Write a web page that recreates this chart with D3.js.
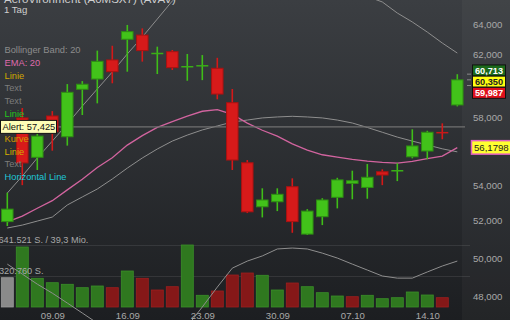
<!DOCTYPE html>
<html><head><meta charset="utf-8">
<script src="https://cdn.jsdelivr.net/npm/d3@7"></script>
<style>html,body{margin:0;padding:0;background:#2b2e32;overflow:hidden}svg{display:block;font-family:"Liberation Sans",Arial,sans-serif}</style>
</head><body><svg id="c" width="510" height="320"></svg>
<script>
// ---------- data ----------
const dates = ["04.09","05.09","06.09","09.09","10.09","11.09","12.09","13.09","16.09","17.09","18.09","19.09","20.09","23.09","24.09","25.09","26.09","27.09","30.09","01.10","02.10","03.10","04.10","07.10","08.10","09.10","10.10","11.10","14.10","15.10","16.10"];
const open  = [51.96,57.97,55.61,58.09,56.83,59.75,60.40,61.63,62.99,63.27,62.02,62.17,61.17,61.23,61.09,58.91,55.29,52.78,53.06,53.91,51.28,52.23,53.31,54.10,53.87,54.77,54.81,55.64,55.98,57.10,58.77];
const high  = [53.57,58.58,57.13,58.39,60.08,60.27,62.24,62.56,63.95,63.72,62.50,62.28,62.02,61.95,61.77,59.77,55.45,53.82,53.82,54.39,52.65,53.26,54.42,54.83,55.22,54.91,55.26,57.28,57.19,57.64,60.71];
const low   = [51.72,54.00,54.87,56.00,56.30,58.15,58.87,60.13,60.87,61.52,60.72,60.98,60.29,60.33,59.12,54.87,52.43,52.19,52.54,51.35,51.23,51.77,52.69,53.20,53.23,54.00,54.23,55.55,55.50,56.68,58.68];
const close = [52.65,55.28,56.87,57.13,59.56,60.07,61.54,60.87,63.50,62.24,62.08,61.13,61.21,61.27,59.45,55.45,52.50,53.16,53.48,51.96,52.54,53.16,54.30,54.25,54.45,54.58,54.84,56.28,57.10,57.05,60.35];
const volume = [303000,620800,297000,251400,234900,199700,217300,199700,372500,297000,175900,210000,641521,121100,165600,331100,351800,328000,175900,248300,210000,148000,113800,106600,121100,85900,96200,155200,124200,96200,0];
const ema20 = [51.94,52.26,52.70,53.12,53.73,54.34,55.02,55.58,56.33,56.90,57.39,57.75,58.08,58.38,58.48,58.19,57.65,57.22,56.87,56.40,56.03,55.76,55.62,55.49,55.39,55.31,55.27,55.37,55.53,55.68,56.1798];
const bbUpper  = [53.55,54.52,55.57,56.57,57.60,58.70,59.77,60.85,62.02,63.14,64.35,65.59,66.5,67.2,67.6,67.9,68.0,67.9,67.8,67.6,67.3,67.0,66.6,66.2,65.9,65.52,64.76,64.15,63.47,62.74,62.08];
const bbMiddle = [51.61,51.77,51.99,52.21,52.88,53.33,53.78,54.35,54.98,55.57,56.10,56.57,56.93,57.24,57.48,57.72,57.84,57.97,58.03,58.07,58.03,57.97,57.84,57.66,57.39,57.10,56.81,56.57,56.34,56.11,55.93];
const bbLower  = [49.68,49.16,48.64,48.18,47.68,47.18,46.68,46.19,45.85,45.61,45.61,45.85,46.53,47.48,48.49,49.47,49.84,50.11,50.48,50.53,50.48,50.26,50.00,49.68,49.37,49.06,48.95,48.95,49.27,49.58,49.84];
const priceTicks = [48,50,52,54,58,62,64];   // 56 and 60 are hidden behind the value tags in the reference
const dateTicks = ["09.09","16.09","23.09","30.09","07.10","14.10"];
const quoteTags = [60.713, 60.350, 59.987];
const alertLevel = 57.425;
const volumeMax = 641521;
const title = "AeroVironment (A0MSX7) (AVAV)";
const period = "1 Tag";
const legendLabels = ["Bollinger Band: 20","EMA: 20","Linie","Text","Text","Linie",null,"Kurve","Linie","Text","Horizontal Line"];
const volumeLabelTop = "641.521 S. / 39,3 Mio.";
const volumeLabelMid = "320.760 S.";

// ---------- drawing ----------
const svg = d3.select("#c");
const W = 510, H = 320;
const de = d3.formatLocale({decimal:",", thousands:".", grouping:[3], currency:["","€"]});
const fmt3 = de.format(".3f"), fmt4 = de.format(".4f");

const x = d3.scalePoint().domain(dates).range([7.3, 457.3]);
const y = d3.scaleLog().domain([48, 64]).range([296.7, 24.2]);
const yv = d3.scaleLinear().domain([0, volumeMax]).range([307, 245]);

const defs = svg.append("defs");
const bg = defs.append("linearGradient").attr("id","bg").attr("x1",0).attr("y1",0).attr("x2",0).attr("y2",1);
bg.append("stop").attr("offset","0%").attr("stop-color","#3b3e42");
bg.append("stop").attr("offset","100%").attr("stop-color","#1c1e21");
defs.append("clipPath").attr("id","plot").append("rect").attr("x",0).attr("y",0).attr("width",466).attr("height",H);

svg.append("rect").attr("width",W).attr("height",H).attr("fill","url(#bg)");
svg.append("rect").attr("x",462).attr("width",W-462).attr("height",H).attr("fill","rgba(255,255,255,0.03)");

// volume grid lines
svg.append("g").selectAll("line").data([volumeMax, volumeMax/2]).join("line")
  .attr("x1",0).attr("x2",470).attr("y1",d=>Math.round(yv(d))+0.5).attr("y2",d=>Math.round(yv(d))+0.5)
  .attr("stroke","rgba(255,255,255,0.09)").attr("stroke-width",1);

// volume bars
const volColor = i => i === 0 ? ["#8a8a8a","#9c9c9c"] : (close[i] >= close[i-1] ? ["#2f781f","#3a8f29"] : ["#851818","#9d1f1f"]);
svg.append("g").selectAll("rect").data(volume.map((v,i)=>({v,i})).filter(d=>d.v>0)).join("rect")
  .attr("x",d=>x(dates[d.i])-6).attr("width",12)
  .attr("y",d=>yv(d.v)).attr("height",d=>yv(0)-yv(d.v))
  .attr("fill",d=>volColor(d.i)[0]).attr("stroke",d=>volColor(d.i)[1]).attr("stroke-width",0.8);

// volume labels
svg.append("text").attr("x",-1.5).attr("y",243).attr("font-size",9.2).attr("fill","#a8a8a8").text(volumeLabelTop);
svg.append("text").attr("x",-1).attr("y",274).attr("font-size",9.2).attr("fill","#a8a8a8").text(volumeLabelMid);

const plot = svg.append("g").attr("clip-path","url(#plot)");
const line = arr => d3.line().x((d,i)=>x(dates[i])).y(d=>y(d))(arr);

// Bollinger bands
[bbUpper, bbMiddle, bbLower].forEach(b => {
  plot.append("path").attr("d", line(b)).attr("fill","none").attr("stroke","#8e8e8e").attr("stroke-width",1);
});
// EMA
plot.append("path").attr("d", line(ema20)).attr("fill","none").attr("stroke","#d2649f").attr("stroke-width",1.3);

// alert line
plot.append("line").attr("x1",0).attr("x2",465).attr("y1",y(alertLevel)).attr("y2",y(alertLevel))
  .attr("stroke","#707070").attr("stroke-width",1.4);

// candles
const cData = dates.map((d,i)=>({d,o:open[i],h:high[i],l:low[i],c:close[i]}));
const cg = plot.append("g").selectAll("g").data(cData).join("g");
const up = d => d.c >= d.o;
cg.append("line").attr("x1",d=>x(d.d)).attr("x2",d=>x(d.d)).attr("y1",d=>y(d.h)).attr("y2",d=>y(d.l))
  .attr("stroke",d=>up(d)?"#3fbd18":"#d41818").attr("stroke-width",1.6);
cg.each(function(d){
  const g = d3.select(this);
  const top = y(Math.max(d.o,d.c)), bot = y(Math.min(d.o,d.c));
  if (bot - top < 1.5) {
    g.append("line").attr("x1",x(d.d)-6).attr("x2",x(d.d)+6).attr("y1",(top+bot)/2).attr("y2",(top+bot)/2)
      .attr("stroke",up(d)?"#3aae17":"#c81818").attr("stroke-width",1.5);
  } else {
    g.append("rect").attr("x",x(d.d)-5.75).attr("width",11.5).attr("y",top).attr("height",bot-top)
      .attr("fill",up(d)?"#42c21a":"#d71a1a").attr("stroke",up(d)?"#2e8c13":"#a81212").attr("stroke-width",1);
  }
});

// price axis
const ya = svg.append("g").attr("transform","translate(473,0)")
  .call(d3.axisRight(y).tickValues(priceTicks).tickFormat(fmt3).tickSize(0).tickPadding(0));
ya.select(".domain").remove();
ya.selectAll("text").attr("fill","#a9a9a9").attr("font-size",9.6).attr("font-family","Liberation Sans, Arial, sans-serif");

// date axis
const xa = svg.append("g").attr("transform","translate(0,310)")
  .call(d3.axisBottom(x).tickValues(dateTicks).tickSize(0));
xa.select(".domain").remove();
xa.selectAll("text").attr("y",9.4).attr("dy",0).attr("fill","#a9a9a9").attr("font-size",9.6).attr("font-family","Liberation Sans, Arial, sans-serif");

// title
svg.append("text").attr("x",4).attr("y",2.5).attr("font-size",11.5).attr("fill","#cfcfcf").text(title);
svg.append("text").attr("x",4).attr("y",12.6).attr("font-size",9.6).attr("fill","#cfcfcf").text(period);

// legend
const legendColors = ["#8c8c8c","#df6aab","#cfa700","#7c7c7c","#7c7c7c","#22c61c",null,"#d39b00","#d4ad00","#7c7c7c","#20c6d6"];
legendLabels.forEach((t,i)=>{
  if (t === null) return;
  svg.append("text").attr("x",4.5).attr("y",53.4 + i*12.66).attr("font-size",9.3).attr("fill",legendColors[i]).text(t);
});

// alert box
const ay = y(alertLevel);
svg.append("rect").attr("x",0.5).attr("y",ay-6.5).attr("width",56).attr("height",13)
  .attr("fill","#fdfdb6").attr("stroke","#111").attr("stroke-width",1);
svg.append("text").attr("x",2.5).attr("y",ay+3.3).attr("font-size",9.3).attr("fill","#111").text("Alert: " + fmt3(alertLevel));

// quote tags
const tagStyle = [["#1c6a1c","#ffffff"],["#ffff10","#222222"],["#e0101c","#ffffff"]];
const mid = y(quoteTags[1]) + 1.8;
quoteTags.forEach((v,i)=>{
  svg.append("line").attr("x1",467).attr("x2",471).attr("y1",y(v)).attr("y2",y(v)).attr("stroke","#8a8a8a").attr("stroke-width",1);
  const cy = mid + (i-1)*11.2;
  svg.append("rect").attr("x",472.5).attr("y",cy-5.5).attr("width",33).attr("height",11)
    .attr("fill",tagStyle[i][0]).attr("stroke","#111").attr("stroke-width",1);
  svg.append("text").attr("x",489).attr("y",cy+3.4).attr("text-anchor","middle").attr("font-size",9.2)
    .attr("font-weight","bold").attr("fill",tagStyle[i][1]).text(fmt3(v));
});
const emaLast = ema20[ema20.length-1];
const ey = y(emaLast);
svg.append("rect").attr("x",471.5).attr("y",ey-7).attr("width",42).attr("height",13.5)
  .attr("fill","#ffff30").attr("stroke","#e05fc0").attr("stroke-width",1.5);
svg.append("text").attr("x",474).attr("y",ey+3.4).attr("font-size",9.6).attr("fill","#222").text(fmt4(emaLast));
</script>
</body></html>
